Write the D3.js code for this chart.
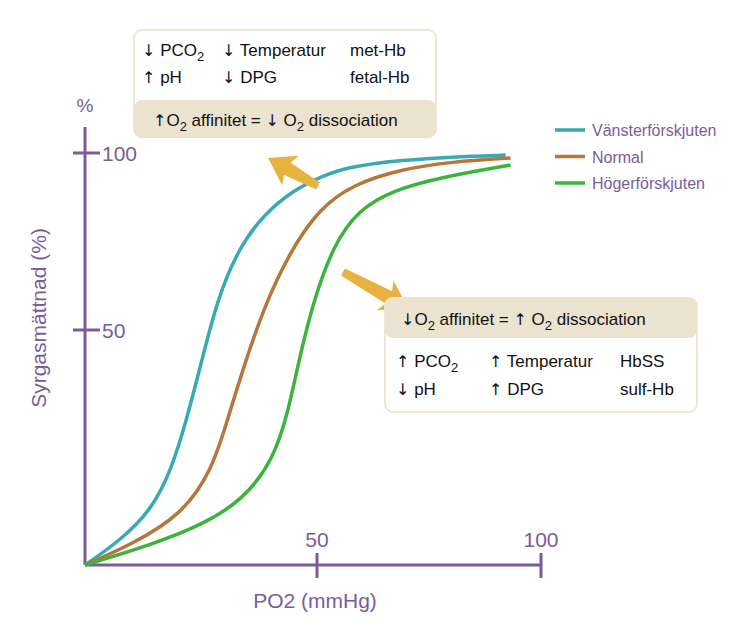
<!DOCTYPE html>
<html><head><meta charset="utf-8">
<script src="https://cdn.jsdelivr.net/npm/d3@7"></script>
<style>body{margin:0;background:#fff}text{font-family:"Liberation Sans",Arial,sans-serif}.ar{font-family:"DejaVu Sans";font-size:16px}</style>
</head><body>
<script>
// curves in data units: [PO2, saturation]
let left = [[0,0],[7.7,5.3],[14.3,11.7],[18.6,20.2],[21.9,30.9],[25.2,43.6],[28.5,58.5],[32.9,72.6],[38.4,82.5],[44.9,89.5],[51.5,93.8],[58.1,96.3],[69.1,98],[80,98.9],[92.1,99.4]];
let normal = [[0,0],[9.9,4.3],[20.8,10.6],[27.4,20.2],[30.7,30.9],[34,41.5],[38.4,55.9],[43.9,71.5],[50.4,84.2],[58.1,91.2],[69.1,95.5],[80,97.5],[93.2,98.6]];
let right = [[0,0],[14.3,4.3],[25.2,8.5],[34,13.8],[40.6,22.3],[43.9,33],[46.1,43.6],[49.3,58.5],[53.7,74],[59.2,83.9],[66.9,89.5],[77.9,93.2],[93.2,96.6]];
let seriesNames = ["Vänsterförskjuten", "Normal", "Högerförskjuten"];
let colors = ["#38aab6", "#b5773a", "#3cb43c"];
let xTicks = [50, 100];
let yTicks = [50, 100];

let width = 750, height = 638, purple = "#7b5c9b";
let svg = d3.select("body").append("svg").attr("width", width).attr("height", height);

let x = d3.scaleLinear().domain([0, 50, 100]).range([85, 317, 541]);
let y = d3.scaleLinear().domain([0, 50, 100]).range([565, 330, 153]);

// axes
svg.append("line").attr("x1", 85).attr("x2", 541).attr("y1", 565).attr("y2", 565).attr("stroke", purple).attr("stroke-width", 3);
svg.append("line").attr("x1", 85).attr("x2", 85).attr("y1", 565).attr("y2", 127).attr("stroke", purple).attr("stroke-width", 3);
yTicks.forEach(t => {
  svg.append("line").attr("x1", 73).attr("x2", 100).attr("y1", y(t)).attr("y2", y(t)).attr("stroke", purple).attr("stroke-width", 3);
  svg.append("text").attr("x", 102).attr("y", y(t) + 8).attr("font-size", 21).attr("fill", purple).text(t);
});
xTicks.forEach(t => {
  svg.append("line").attr("x1", x(t)).attr("x2", x(t)).attr("y1", 553).attr("y2", 578).attr("stroke", purple).attr("stroke-width", 3);
  svg.append("text").attr("x", x(t)).attr("y", 547).attr("text-anchor", "middle").attr("font-size", 21).attr("fill", purple).text(t);
});
svg.append("text").attr("x", 85).attr("y", 112).attr("text-anchor", "middle").attr("font-size", 19).attr("fill", purple).text("%");
svg.append("text").attr("x", 315).attr("y", 608).attr("text-anchor", "middle").attr("font-size", 21).attr("fill", purple).text("PO2 (mmHg)");
svg.append("text").attr("transform", "translate(46,318) rotate(-90)").attr("text-anchor", "middle").attr("font-size", 21).attr("fill", purple).text("Syrgasmättnad (%)");

// curves
let line = d3.line().x(d => x(d[0])).y(d => y(d[1])).curve(d3.curveBasis);
[left, normal, right].forEach((s, i) => {
  svg.append("path").attr("d", line(s)).attr("fill", "none").attr("stroke", colors[i]).attr("stroke-width", 3.5);
});

// legend
seriesNames.forEach((n, i) => {
  let ly = 130 + i * 26.5;
  svg.append("line").attr("x1", 555).attr("x2", 585).attr("y1", ly).attr("y2", ly).attr("stroke", colors[i]).attr("stroke-width", 3.5);
  svg.append("text").attr("x", 592).attr("y", ly + 6).attr("font-size", 16).attr("fill", purple).text(n);
});

// arrows
let gold = "#e8b23e";
function arrow(x1, y1, x2, y2) {
  let a = Math.atan2(y2 - y1, x2 - x1), L = Math.hypot(x2 - x1, y2 - y1);
  let g = svg.append("g").attr("transform", `translate(${x1},${y1}) rotate(${a * 180 / Math.PI})`);
  g.append("path").attr("fill", gold)
    .attr("d", `M0,-4 L${L - 22},-7 L${L - 26},-17 L${L},0 L${L - 26},17 L${L - 22},7 L0,4Z`);
}
arrow(318, 186, 268, 158);
arrow(343, 272, 408, 308);

// boxes
let beige = "#ebe2cf", border = "#efe6d3";
function box(bx, by, bw, bh) {
  svg.append("rect").attr("x", bx).attr("y", by).attr("width", bw).attr("height", bh).attr("rx", 8).attr("fill", "#fff").attr("stroke", border).attr("stroke-width", 2);
}
// parts: [text, kind] kind: 1 subscript, "a" arrow glyph, 0/undefined normal
function txt(tx, ty, parts) {
  let t = svg.append("text").attr("x", tx).attr("y", ty).attr("font-size", 17).attr("fill", "#111");
  let sub = false;
  parts.forEach(p => {
    let s = t.append("tspan").text(p[0]);
    if (p[1] === 1) { s.attr("font-size", 13).attr("dy", 5); sub = true; }
    else {
      if (sub) { s.attr("dy", -5); sub = false; }
      if (p[1] === "a") s.attr("class", "ar");
    }
  });
}
box(134, 30, 302, 107);
svg.append("rect").attr("x", 134).attr("y", 100).attr("width", 302).attr("height", 38).attr("rx", 8).attr("fill", beige);
txt(142, 56, [["↓", "a"], [" PCO"], ["2", 1]]);
txt(222, 56, [["↓", "a"], [" Temperatur"]]);
txt(350, 56, [["met-Hb"]]);
txt(142, 83, [["↑", "a"], [" pH"]]);
txt(222, 83, [["↓", "a"], [" DPG"]]);
txt(350, 83, [["fetal-Hb"]]);
txt(153, 126, [["↑", "a"], ["O"], ["2", 1], [" affinitet  = "], ["↓", "a"], [" O"], ["2", 1], [" dissociation"]]);

box(385, 298, 312, 114);
svg.append("rect").attr("x", 385).attr("y", 298).attr("width", 312).attr("height", 40).attr("rx", 8).attr("fill", beige);
txt(401, 325, [["↓", "a"], ["O"], ["2", 1], [" affinitet  = "], ["↑", "a"], [" O"], ["2", 1], [" dissociation"]]);
txt(396, 367, [["↑", "a"], [" PCO"], ["2", 1]]);
txt(489, 367, [["↑", "a"], [" Temperatur"]]);
txt(620, 367, [["HbSS"]]);
txt(396, 395, [["↓", "a"], [" pH"]]);
txt(489, 395, [["↑", "a"], [" DPG"]]);
txt(620, 395, [["sulf-Hb"]]);
</script>
</body></html>
